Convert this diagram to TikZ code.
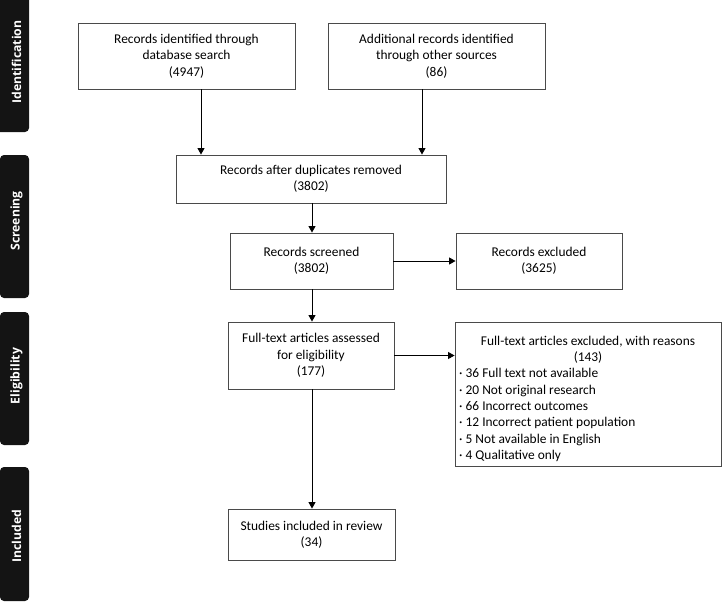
\documentclass[tikz,border=0pt]{standalone}
\usepackage{fontspec}
\setmainfont{Carlito}
\newfontfamily\sidefont{Open Sans}
\usetikzlibrary{arrows.meta}
\definecolor{sidebg}{HTML}{141414}
\definecolor{boxline}{HTML}{4A4A4A}
\tikzset{
  flowbox/.style={draw=boxline, line width=0.9pt, align=center, inner sep=2pt,
    font=\fontsize{13.4}{16.3}\selectfont, text=black},
  phase/.style={fill=sidebg, rounded corners=4pt},
  phaselabel/.style={text=white, rotate=90, font=\sidefont\bfseries\fontsize{12.2}{14}\selectfont},
  arr/.style={draw=black, line width=0.9pt, -{Triangle[length=6.5pt,width=7pt]}}
}
\begin{document}
\begin{tikzpicture}[x=1pt,y=-1pt]
\useasboundingbox (0,0) rectangle (722,602);
% sidebar
\fill[phase] (-6,-6) rectangle (29,132);
\fill[phase] (0,155) rectangle (29,298);
\fill[phase] (0,312) rectangle (29,445);
\fill[phase] (0,467) rectangle (29,601);
\node[phaselabel] (pI) at (16.5,62) {Identification};
\node[phaselabel] (pS) at (16.5,221) {Screening};
\node[phaselabel] (pE) at (16.5,376) {Eligibility};
\node[phaselabel] (pN) at (16.5,536) {Included};
% boxes
\node[flowbox, minimum width=217pt, minimum height=66pt] (b1) at (186.5,56)
  {Records identified through\\database search\\(4947)};
\node[flowbox, minimum width=217pt, minimum height=66pt] (b2) at (436.5,56)
  {Additional records identified\\through other sources\\(86)};
\node[flowbox, minimum width=270pt, minimum height=48pt] (b3) at (311,179)
  {Records after duplicates removed\\(3802)};
\node[flowbox, minimum width=163pt, minimum height=56pt] (b4) at (311.5,261)
  {Records screened\\(3802)};
\node[flowbox, minimum width=166pt, minimum height=56pt] (b5) at (539,261)
  {Records excluded\\(3625)};
\node[flowbox, minimum width=166pt, minimum height=67pt] (b6) at (311,355.5)
  {Full-text articles assessed\\for eligibility\\(177)};
\node[flowbox, minimum width=266pt, minimum height=144pt, align=left, inner sep=0pt] (b7) at (588,394)
  {\hbox to 262pt{\hfil\rule{0pt}{19pt}Full-text articles excluded, with reasons\hfil}\\
   \hbox to 262pt{\hfil (143)\hfil}\\
   \,· 36 Full text not available\\
   \,· 20 Not original research\\
   \,· 66 Incorrect outcomes\\
   \,· 12 Incorrect patient population\\
   \,· 5 Not available in English\\
   \,· 4 Qualitative only};
\node[flowbox, minimum width=167pt, minimum height=51pt] (b8) at (311.5,534.5)
  {Studies included in review\\(34)};
% connectors
\coordinate (x1) at (201,0);
\coordinate (x2) at (422,0);
\coordinate (x3) at (312,0);
\draw[arr] (b1.south -| x1) -- (b3.north -| x1);
\draw[arr] (b2.south -| x2) -- (b3.north -| x2);
\draw[arr] (b3.south -| x3) -- (b4.north -| x3);
\draw[arr] (b4.south -| x3) -- (b6.north -| x3);
\draw[arr] (b6.south -| x3) -- (b8.north -| x3);
\draw[arr] (b4.east) -- (b5.west);
\draw[arr] (b6.east) -- (b6.east -| b7.west);
\end{tikzpicture}
\end{document}
